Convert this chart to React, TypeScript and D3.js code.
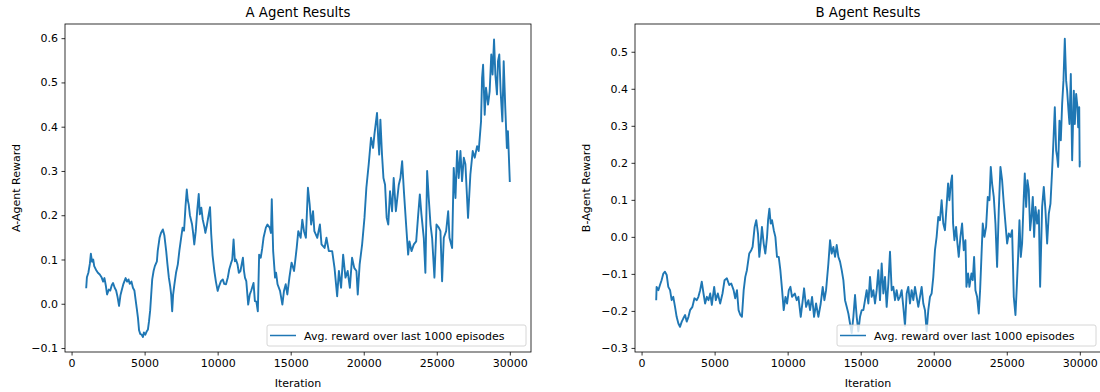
import React, { useEffect, useRef } from 'react';
import * as d3 from 'd3';

// [iteration, avg reward over last 1000 episodes]
const A_SERIES: [number, number][] = [
  [1000, 0.035], [1050, 0.06], [1150, 0.07], [1250, 0.09], [1320, 0.113], [1400, 0.095], [1480, 0.1],
  [1550, 0.085], [1700, 0.075], [1800, 0.07], [1930, 0.066], [2050, 0.06], [2160, 0.05], [2250, 0.058],
  [2350, 0.04], [2430, 0.021], [2550, 0.032], [2650, 0.03], [2750, 0.042], [2840, 0.047], [2950, 0.036],
  [3050, 0.03], [3150, 0.015], [3250, -0.005], [3350, 0.02], [3420, 0.029], [3550, 0.045], [3700, 0.058],
  [3800, 0.05], [3900, 0.055], [3980, 0.045], [4100, 0.05], [4200, 0.036], [4300, 0.03], [4380, 0.01],
  [4460, -0.01], [4545, -0.032], [4620, -0.06], [4700, -0.068], [4800, -0.07], [4886, -0.075], [4950, -0.065],
  [5050, -0.07], [5150, -0.062], [5228, -0.058], [5300, -0.04], [5380, -0.015], [5450, 0.02], [5520, 0.055],
  [5614, 0.074], [5700, 0.085], [5841, 0.096], [5900, 0.12], [6023, 0.149], [6120, 0.16], [6250, 0.168],
  [6350, 0.155], [6478, 0.119], [6560, 0.09], [6660, 0.059], [6750, 0.04], [6820, 0.02], [6887, -0.017],
  [6950, 0.02], [7040, 0.044], [7150, 0.07], [7273, 0.089], [7380, 0.12], [7500, 0.149], [7600, 0.172],
  [7700, 0.165], [7800, 0.22], [7887, 0.258], [7950, 0.235], [8020, 0.224], [8100, 0.2], [8250, 0.179],
  [8320, 0.16], [8400, 0.134], [8500, 0.164], [8600, 0.21], [8705, 0.248], [8780, 0.202], [8880, 0.217],
  [8980, 0.19], [9100, 0.172], [9160, 0.16], [9250, 0.175], [9380, 0.2], [9478, 0.218], [9560, 0.157],
  [9650, 0.11], [9773, 0.074], [9880, 0.05], [10000, 0.029], [10100, 0.04], [10227, 0.051], [10350, 0.055],
  [10450, 0.045], [10570, 0.044], [10700, 0.06], [10795, 0.078], [10900, 0.09], [11000, 0.1], [11090, 0.145],
  [11180, 0.096], [11250, 0.1], [11360, 0.089], [11450, 0.07], [11560, 0.074], [11650, 0.09], [11730, 0.104],
  [11800, 0.075], [11870, 0.059], [11960, 0.051], [12090, -0.002], [12200, 0.021], [12300, 0.03],
  [12455, 0.047], [12550, 0.006], [12650, 0.005], [12750, -0.017], [12840, 0.111], [12950, 0.104],
  [13050, 0.125], [13140, 0.149], [13300, 0.172], [13410, 0.179], [13560, 0.172], [13650, 0.16],
  [13705, 0.236], [13800, 0.119], [13930, 0.059], [14000, 0.07], [14100, 0.044], [14270, 0.029],
  [14430, -0.002], [14540, 0.029], [14660, 0.044], [14770, 0.021], [14910, 0.059], [15060, 0.093],
  [15230, 0.074], [15410, 0.126], [15520, 0.164], [15680, 0.149], [15795, 0.19], [15910, 0.164],
  [16040, 0.149], [16180, 0.262], [16300, 0.224], [16400, 0.179], [16530, 0.209], [16620, 0.164],
  [16820, 0.149], [17000, 0.179], [17110, 0.134], [17320, 0.126], [17450, 0.149], [17610, 0.119],
  [17840, 0.119], [18000, 0.081], [18180, 0.017], [18300, 0.074], [18450, 0.036], [18590, 0.111],
  [18750, 0.059], [18900, 0.074], [19050, 0.036], [19200, 0.104], [19350, 0.081], [19500, 0.074],
  [19590, 0.021], [19720, 0.089], [19890, 0.134], [20050, 0.194], [20180, 0.262], [20340, 0.315],
  [20500, 0.375], [20640, 0.352], [20730, 0.382], [20910, 0.431], [21000, 0.367], [21060, 0.337],
  [21140, 0.416], [21250, 0.337], [21350, 0.284], [21460, 0.269], [21570, 0.194], [21680, 0.179],
  [21800, 0.254], [21940, 0.209], [22050, 0.284], [22200, 0.209], [22400, 0.269], [22510, 0.284],
  [22630, 0.322], [22750, 0.254], [22900, 0.179], [23040, 0.111], [23130, 0.141], [23270, 0.119],
  [23430, 0.134], [23590, 0.141], [23730, 0.202], [23840, 0.247], [23950, 0.202], [24110, 0.149],
  [24220, 0.07], [24340, 0.3], [24450, 0.239], [24570, 0.179], [24680, 0.149], [24840, 0.059],
  [24980, 0.179], [25140, 0.172], [25250, 0.164], [25365, 0.051], [25480, 0.149], [25640, 0.164],
  [25780, 0.209], [25870, 0.149], [26050, 0.126], [26160, 0.307], [26280, 0.239], [26390, 0.345],
  [26500, 0.284], [26620, 0.345], [26730, 0.277], [26850, 0.33], [26960, 0.315], [27140, 0.194],
  [27300, 0.292], [27460, 0.345], [27600, 0.33], [27760, 0.356], [27870, 0.345], [28030, 0.412],
  [28100, 0.51], [28170, 0.54], [28280, 0.427], [28370, 0.488], [28510, 0.45], [28620, 0.48],
  [28730, 0.563], [28820, 0.518], [28920, 0.597], [29010, 0.518], [29120, 0.473], [29190, 0.548],
  [29280, 0.563], [29370, 0.48], [29490, 0.412], [29580, 0.548], [29690, 0.442], [29800, 0.352],
  [29870, 0.39], [29930, 0.337], [30000, 0.275],
];

const B_SERIES: [number, number][] = [
  [1000, -0.171], [1030, -0.135], [1150, -0.144], [1260, -0.13], [1370, -0.117], [1490, -0.099],
  [1600, -0.094], [1720, -0.103], [1830, -0.135], [1950, -0.144], [2060, -0.171], [2170, -0.162],
  [2290, -0.189], [2400, -0.216], [2520, -0.234], [2630, -0.243], [2750, -0.229], [2860, -0.22],
  [2980, -0.211], [3090, -0.229], [3210, -0.216], [3320, -0.198], [3480, -0.189], [3620, -0.166],
  [3780, -0.171], [3890, -0.162], [4010, -0.144], [4120, -0.121], [4240, -0.153], [4350, -0.18],
  [4470, -0.162], [4580, -0.171], [4700, -0.153], [4810, -0.184], [4970, -0.135], [5080, -0.171],
  [5220, -0.153], [5380, -0.18], [5540, -0.153], [5680, -0.117], [5840, -0.112], [6000, -0.13],
  [6140, -0.126], [6300, -0.144], [6410, -0.166], [6530, -0.144], [6640, -0.198], [6760, -0.211],
  [6870, -0.216], [6990, -0.144], [7100, -0.108], [7210, -0.09], [7370, -0.045], [7510, -0.036],
  [7600, -0.027], [7740, 0.027], [7850, 0.045], [7970, 0.009], [8060, -0.054], [8150, -0.018],
  [8240, 0.027], [8360, -0.018], [8470, -0.045], [8590, 0.0], [8660, 0.045], [8750, 0.076],
  [8840, 0.036], [8930, 0.045], [9050, 0.018], [9160, 0.0], [9270, -0.054], [9390, -0.054],
  [9500, -0.09], [9620, -0.144], [9730, -0.198], [9850, -0.162], [9960, -0.18], [10080, -0.144],
  [10190, -0.135], [10300, -0.162], [10490, -0.153], [10622, -0.171], [10736, -0.162], [10896, -0.216],
  [11033, -0.171], [11124, -0.139], [11261, -0.189], [11420, -0.171], [11534, -0.198], [11671, -0.162],
  [11808, -0.216], [11945, -0.18], [12104, -0.216], [12264, -0.18], [12400, -0.135], [12515, -0.171],
  [12629, -0.144], [12788, -0.072], [12902, -0.009], [13016, -0.045], [13130, -0.027], [13244, -0.054],
  [13358, -0.022], [13472, -0.054], [13586, -0.067], [13700, -0.09], [13814, -0.117], [13928, -0.171],
  [14042, -0.189], [14156, -0.207], [14270, -0.234], [14384, -0.26], [14498, -0.216], [14612, -0.157],
  [14726, -0.216], [14840, -0.255], [14954, -0.216], [15068, -0.198], [15182, -0.198], [15296, -0.171],
  [15410, -0.144], [15524, -0.18], [15638, -0.108], [15752, -0.162], [15866, -0.144], [15980, -0.18],
  [16094, -0.144], [16208, -0.09], [16322, -0.171], [16436, -0.072], [16550, -0.153], [16664, -0.108],
  [16778, -0.189], [16892, -0.126], [17006, -0.04], [17120, -0.144], [17234, -0.135], [17348, -0.171],
  [17462, -0.144], [17576, -0.171], [17690, -0.162], [17804, -0.144], [17918, -0.189], [18032, -0.24],
  [18146, -0.153], [18260, -0.135], [18374, -0.18], [18488, -0.144], [18602, -0.171], [18716, -0.135],
  [18830, -0.162], [18944, -0.189], [19058, -0.162], [19172, -0.135], [19286, -0.18], [19400, -0.198],
  [19514, -0.255], [19628, -0.198], [19742, -0.162], [19856, -0.153], [19970, -0.108], [20084, -0.036],
  [20198, 0.0], [20312, 0.054], [20426, 0.045], [20540, 0.099], [20654, 0.036], [20768, 0.018],
  [20982, 0.144], [21073, 0.099], [21165, 0.144], [21256, 0.166], [21324, 0.036], [21416, -0.009],
  [21530, 0.027], [21621, -0.018], [21712, -0.054], [21827, 0.0], [21941, 0.036], [22055, -0.036],
  [22169, -0.009], [22238, -0.135], [22352, -0.099], [22443, -0.135], [22580, -0.099], [22671, -0.117],
  [22763, -0.054], [22854, -0.144], [22968, -0.162], [23082, -0.207], [23174, -0.144], [23265, -0.054],
  [23356, 0.036], [23470, 0.0], [23585, 0.027], [23699, 0.108], [23813, 0.099], [23904, 0.189],
  [23996, 0.144], [24110, 0.108], [24224, 0.036], [24338, -0.081], [24452, 0.072], [24566, 0.189],
  [24680, 0.153], [24795, 0.09], [24909, 0.036], [25023, -0.018], [25137, 0.009], [25251, 0.0],
  [25365, 0.018], [25479, -0.162], [25594, -0.211], [25685, -0.135], [25776, -0.054], [25868, 0.045],
  [25959, -0.054], [26050, -0.018], [26164, 0.108], [26233, 0.171], [26324, 0.081], [26415, 0.153],
  [26507, 0.126], [26598, 0.018], [26689, 0.054], [26781, 0.108], [26872, 0.0], [26963, 0.081],
  [27078, 0.036], [27192, 0.072], [27283, -0.135], [27420, 0.081], [27534, 0.135], [27648, 0.072],
  [27763, -0.018], [27877, 0.063], [27991, 0.09], [28105, 0.18], [28196, 0.261], [28288, 0.35],
  [28379, 0.234], [28447, 0.216], [28516, 0.189], [28607, 0.314], [28699, 0.261], [28790, 0.359],
  [28881, 0.422], [28972, 0.535], [29064, 0.422], [29132, 0.395], [29224, 0.341], [29292, 0.305],
  [29383, 0.44], [29475, 0.207], [29589, 0.395], [29657, 0.305], [29749, 0.386], [29840, 0.35],
  [29886, 0.296], [29960, 0.35], [29990, 0.19], [30000, 0.205],
];

const X_TICKS = [0, 5000, 10000, 15000, 20000, 25000, 30000];
const A_Y_TICKS = [-0.1, 0.0, 0.1, 0.2, 0.3, 0.4, 0.5, 0.6];
const B_Y_TICKS = [-0.3, -0.2, -0.1, 0.0, 0.1, 0.2, 0.3, 0.4, 0.5];
const LEGEND_LABEL = 'Avg. reward over last 1000 episodes';

const FONT = '"DejaVu Sans", sans-serif';
const LINE_COLOR = '#1f77b4';

interface PanelSpec {
  title: string;
  yLabel: string;
  data: [number, number][];
  yDomain: [number, number];
  yTicks: number[];
  left: number;
}

const PANELS: PanelSpec[] = [
  { title: 'A Agent Results', yLabel: 'A-Agent Reward', data: A_SERIES, yDomain: [-0.109, 0.632], yTicks: A_Y_TICKS, left: 65 },
  { title: 'B Agent Results', yLabel: 'B-Agent Reward', data: B_SERIES, yDomain: [-0.311, 0.575], yTicks: B_Y_TICKS, left: 635 },
];

export default function App() {
  const svgRef = useRef<SVGSVGElement>(null);

  useEffect(() => {
    if (!svgRef.current) return;
    const svg = d3.select(svgRef.current);
    svg.selectAll('*').remove();

    const top = 24;
    const bottom = 352;
    const plotW = 466;

    PANELS.forEach((p, idx) => {
      const x = d3.scaleLinear().domain([-450, 31450]).range([p.left, p.left + plotW]);
      const y = d3.scaleLinear().domain(p.yDomain).range([bottom, top]);
      const clipId = `clip-${idx}`;

      svg.append('clipPath').attr('id', clipId)
        .append('rect').attr('x', p.left).attr('y', top).attr('width', plotW).attr('height', bottom - top);

      // line
      const line = d3.line<[number, number]>().x(d => x(d[0])).y(d => y(d[1]));
      svg.append('path')
        .datum(p.data)
        .attr('clip-path', `url(#${clipId})`)
        .attr('fill', 'none')
        .attr('stroke', LINE_COLOR)
        .attr('stroke-width', 1.9)
        .attr('stroke-linejoin', 'round')
        .attr('d', line);

      // axes
      const xAxis = svg.append('g')
        .attr('transform', `translate(0,${bottom})`)
        .call(d3.axisBottom(x).tickValues(X_TICKS).tickSize(3.5).tickPadding(3.5).tickFormat(d3.format('d')));
      const yAxis = svg.append('g')
        .attr('transform', `translate(${p.left},0)`)
        .call(d3.axisLeft(y).tickValues(p.yTicks).tickSize(3.5).tickPadding(3.5).tickFormat(d3.format('.1f')));
      [xAxis, yAxis].forEach(a => {
        a.select('.domain').remove();
        a.selectAll('line').attr('stroke', '#000').attr('stroke-width', 0.8);
        a.selectAll('text').attr('font-family', FONT).attr('font-size', 11).attr('fill', '#000');
      });

      // spines
      svg.append('rect')
        .attr('x', p.left).attr('y', top).attr('width', plotW).attr('height', bottom - top)
        .attr('fill', 'none').attr('stroke', '#000').attr('stroke-width', 0.8);

      // title and labels
      svg.append('text')
        .attr('x', p.left + plotW / 2).attr('y', 17)
        .attr('text-anchor', 'middle').attr('font-family', FONT).attr('font-size', 13.3)
        .text(p.title);
      svg.append('text')
        .attr('x', p.left + plotW / 2).attr('y', 387)
        .attr('text-anchor', 'middle').attr('font-family', FONT).attr('font-size', 11)
        .text('Iteration');
      svg.append('text')
        .attr('transform', `translate(${p.left - 45},${(top + bottom) / 2}) rotate(-90)`)
        .attr('text-anchor', 'middle').attr('font-family', FONT).attr('font-size', 11)
        .text(p.yLabel);

      // legend
      const lw = 259;
      const lh = 21;
      const lx = p.left + plotW - 5 - lw;
      const ly = bottom - 6 - lh;
      const lg = svg.append('g').attr('transform', `translate(${lx},${ly})`);
      lg.append('rect')
        .attr('width', lw).attr('height', lh).attr('rx', 2)
        .attr('fill', '#fff').attr('fill-opacity', 0.8)
        .attr('stroke', '#cccccc').attr('stroke-width', 0.8);
      lg.append('line')
        .attr('x1', 3).attr('x2', 29).attr('y1', lh / 2).attr('y2', lh / 2)
        .attr('stroke', LINE_COLOR).attr('stroke-width', 1.5);
      lg.append('text')
        .attr('x', 37).attr('y', lh / 2 + 4)
        .attr('font-family', FONT).attr('font-size', 11).attr('fill', '#000')
        .text(LEGEND_LABEL);
    });
  }, []);

  return (
    <svg
      ref={svgRef}
      width={1100}
      height={392}
      style={{ position: 'absolute', left: 0, top: 0, background: '#fff' }}
    />
  );
}
